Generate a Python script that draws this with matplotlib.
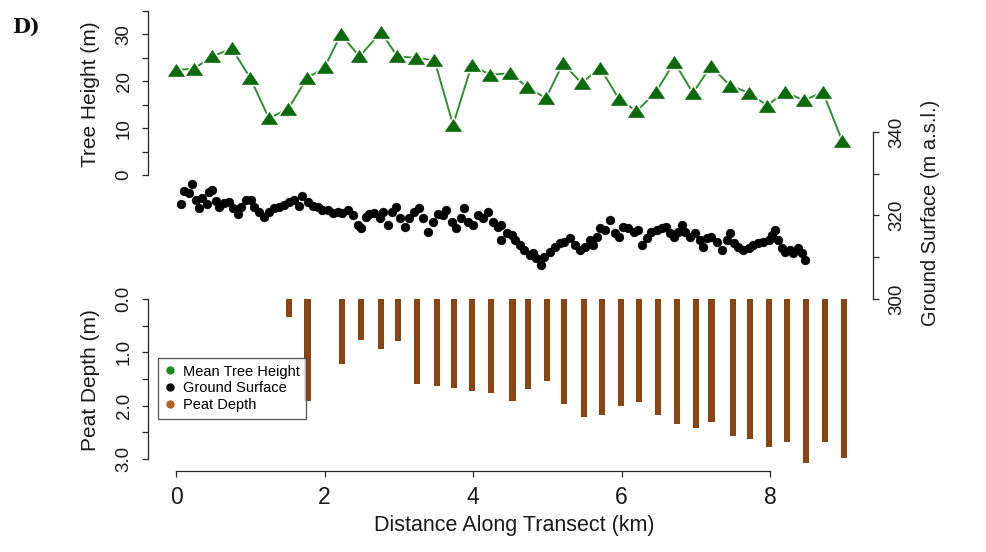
import numpy as np
import matplotlib
matplotlib.use("Agg")
import matplotlib.pyplot as plt
from matplotlib import font_manager
from matplotlib.lines import Line2D
from matplotlib.path import Path

# ---- data -------------------------------------------------------------
tree_km = [0.00, 0.24, 0.49, 0.75, 1.00, 1.25, 1.51, 1.76, 2.00, 2.22, 2.47, 2.76,
           2.98, 3.23, 3.48, 3.73, 3.98, 4.23, 4.50, 4.73, 4.98, 5.21, 5.46, 5.71,
           5.96, 6.20, 6.46, 6.71, 6.96, 7.20, 7.46, 7.72, 7.96, 8.20, 8.45, 8.71, 8.97]
tree_height = [22.4, 22.7, 25.3, 27.0, 20.7, 12.1, 14.1, 20.6, 23.0, 30.0, 25.3, 30.5,
               25.3, 25.0, 24.5, 10.7, 23.4, 21.4, 21.7, 18.7, 16.4, 23.8, 19.6, 22.9,
               16.3, 13.6, 17.7, 24.1, 17.5, 23.2, 19.1, 17.5, 14.8, 17.8, 15.9, 17.7, 7.3]

ground_km = [0.06, 0.11, 0.18, 0.22, 0.27, 0.31, 0.35, 0.41, 0.45, 0.49, 0.54, 0.58,
             0.65, 0.71, 0.76, 0.83, 0.87, 0.94, 1.01, 1.05, 1.12, 1.19, 1.25, 1.32,
             1.39, 1.46, 1.52, 1.59, 1.66, 1.70, 1.77, 1.84, 1.91, 1.97, 2.04, 2.11,
             2.18, 2.24, 2.31, 2.38, 2.45, 2.49, 2.56, 2.60, 2.67, 2.74, 2.78, 2.85,
             2.91, 2.96, 3.01, 3.08, 3.14, 3.21, 3.27, 3.32, 3.39, 3.46, 3.53, 3.59,
             3.64, 3.71, 3.77, 3.84, 3.88, 3.93, 4.00, 4.06, 4.13, 4.20, 4.27, 4.33,
             4.38, 4.37, 4.45, 4.52, 4.56, 4.63, 4.69, 4.76, 4.81, 4.85, 4.92, 4.96,
             5.03, 5.10, 5.17, 5.23, 5.30, 5.37, 5.44, 5.50, 5.57, 5.62, 5.67, 5.71,
             5.77, 5.84, 5.91, 5.97, 6.02, 6.09, 6.16, 6.22, 6.28, 6.34, 6.40, 6.47,
             6.54, 6.60, 6.65, 6.70, 6.76, 6.81, 6.85, 6.92, 6.99, 7.06, 7.10, 7.15,
             7.21, 7.28, 7.35, 7.42, 7.46, 7.51, 7.57, 7.64, 7.71, 7.77, 7.84, 7.91,
             7.98, 8.02, 8.07, 8.11, 8.16, 8.20, 8.27, 8.31, 8.38, 8.43, 8.47]
ground_elev = [322.7, 325.9, 325.3, 327.5, 323.7, 321.7, 324.3, 322.7, 325.7, 326.1, 323.5, 322.1,
               322.9, 323.3, 321.7, 320.3, 322.1, 323.7, 323.7, 322.1, 320.9, 319.7, 320.9, 321.7,
               322.1, 322.5, 323.3, 323.7, 322.3, 324.7, 323.3, 322.3, 322.1, 321.3, 321.3, 320.5,
               320.9, 320.5, 321.3, 320.1, 317.7, 316.9, 319.7, 320.3, 320.5, 319.3, 320.9, 317.7,
               320.9, 322.1, 319.3, 317.3, 319.3, 320.9, 321.9, 319.3, 316.1, 318.5, 320.3, 320.1,
               321.3, 318.5, 316.9, 319.3, 321.7, 318.5, 317.7, 320.1, 319.3, 320.9, 318.5, 317.3,
               314.1, 317.7, 315.7, 315.3, 314.1, 312.9, 311.7, 310.5, 311.0, 309.8, 308.1, 310.1,
               311.3, 312.5, 313.3, 313.7, 314.5, 312.9, 311.7, 312.5, 314.1, 312.9, 314.9, 316.9,
               316.5, 318.9, 315.7, 314.9, 317.3, 316.9, 316.1, 316.5, 312.9, 314.5, 316.1, 316.5,
               316.9, 317.3, 315.7, 314.9, 316.1, 317.7, 316.1, 314.9, 315.7, 314.1, 312.5, 314.5,
               314.9, 313.7, 311.7, 314.1, 315.7, 313.3, 312.5, 311.7, 312.1, 312.9, 313.3, 313.7,
               314.1, 315.3, 316.5, 314.1, 312.1, 311.3, 311.7, 311.0, 312.1, 311.0, 309.3]

peat_km = [1.52, 1.77, 2.23, 2.49, 2.76, 2.99, 3.24, 3.51, 3.74, 3.98, 4.24, 4.53,
           4.74, 4.99, 5.22, 5.49, 5.74, 5.99, 6.24, 6.49, 6.74, 7.00, 7.21, 7.50,
           7.73, 7.98, 8.23, 8.48, 8.74, 9.00]
peat_depth = [0.34, 1.91, 1.22, 0.76, 0.94, 0.79, 1.59, 1.63, 1.66, 1.73, 1.76, 1.91,
              1.69, 1.53, 1.96, 2.21, 2.18, 2.00, 1.93, 2.18, 2.34, 2.41, 2.30, 2.57,
              2.63, 2.77, 2.69, 3.07, 2.69, 2.99]

x_ticks = [0, 2, 4, 6, 8]
tree_ticks = [0, 5, 10, 15, 20, 25, 30, 35]
tree_labels = ["0", "", "10", "", "20", "", "30", ""]
ground_ticks = [300, 310, 320, 330, 340]
ground_labels = ["300", "", "320", "", "340"]
peat_ticks = [0.0, 0.5, 1.0, 1.5, 2.0, 2.5, 3.0]
peat_labels = ["0.0", "", "1.0", "", "2.0", "", "3.0"]

# ---- styling ----------------------------------------------------------
names = {f.name for f in font_manager.fontManager.ttflist}
SANS = "Liberation Sans" if "Liberation Sans" in names else "DejaVu Sans"
NARROW = "Liberation Sans Narrow" if "Liberation Sans Narrow" in names else SANS
LABEL_SIZE = 18 if NARROW != SANS else 15.5
TICK_SIZE = 18 if NARROW != SANS else 16.5

GREEN = "#0b6a0b"
GREEN_LINE = "#2f8f2f"
BROWN = "#8b4513"
AX = "#262626"

W, H = 986, 552
fig = plt.figure(figsize=(W / 100, H / 100), dpi=100)


def fx(px):
    return px / W


def fy(py):
    return 1 - py / H


left, right = 148, 873
xlim = (-0.378, 9.385)


def make_axes(top_px, bottom_px):
    ax = fig.add_axes([fx(left), fy(bottom_px), fx(right - left), (bottom_px - top_px) / H])
    ax.set_facecolor("none")
    for s in ax.spines.values():
        s.set_visible(False)
        s.set_color(AX)
        s.set_linewidth(0.9)
    ax.set_xlim(*xlim)
    ax.set_xticks([])
    return ax


def style_y(ax, side, ticks, labels):
    ax.yaxis.set_ticks_position(side)
    ax.spines[side].set_visible(True)
    ax.spines[side].set_bounds(ticks[0], ticks[-1])
    ax.set_yticks(ticks)
    ax.set_yticklabels(labels)
    ax.tick_params(axis="y", direction="out", length=4.5, width=0.9, color=AX,
                   pad=6.5, labelsize=13.5, labelcolor="#1a1a1a")
    for t in ax.get_yticklabels():
        t.set_rotation(90)
        t.set_va("center")
        t.set_ha("right" if side == "left" else "left")
        t.set_family(SANS)


# Tree height panel
ax_t = make_axes(11, 175)
ax_t.set_ylim(0, 35)
style_y(ax_t, "left", tree_ticks, tree_labels)
tri = Path([(0, 0.75), (-1, -0.75), (1, -0.75), (0, 0.75)],
           [Path.MOVETO, Path.LINETO, Path.LINETO, Path.CLOSEPOLY])
ax_t.plot(tree_km, tree_height, color=GREEN_LINE, lw=1.4, zorder=2, clip_on=False)
ax_t.plot(tree_km, tree_height, linestyle="none", marker=tri, markersize=12,
          markerfacecolor=GREEN, markeredgecolor="white", markeredgewidth=2.4,
          zorder=3, clip_on=False)
ax_t.plot(tree_km, tree_height, linestyle="none", marker=tri, markersize=11.5,
          markerfacecolor=GREEN, markeredgecolor=GREEN, markeredgewidth=0.5,
          zorder=4, clip_on=False)

# Ground surface panel
ax_g = make_axes(132, 299)
ax_g.set_ylim(300, 340)
style_y(ax_g, "right", ground_ticks, ground_labels)
ax_g.plot(ground_km, ground_elev, linestyle="none", marker="o", markersize=6.4,
          markerfacecolor="black", markeredgecolor="black", markeredgewidth=0.3,
          clip_on=False, zorder=3)

# Peat depth panel
ax_p = make_axes(299, 459)
ax_p.set_ylim(3, 0)
style_y(ax_p, "left", peat_ticks, peat_labels)
ax_p.bar(peat_km, peat_depth, width=0.082, bottom=0, color=BROWN, linewidth=0,
         clip_on=False, zorder=2)

# Shared distance axis
ax_p.spines["bottom"].set_visible(True)
ax_p.spines["bottom"].set_position(("outward", 8.6))
ax_p.spines["bottom"].set_bounds(x_ticks[0], x_ticks[-1])
ax_p.set_xticks(x_ticks)
ax_p.set_xticklabels([str(v) for v in x_ticks])
ax_p.tick_params(axis="x", direction="out", length=4.5, width=0.9, color=AX,
                 pad=6.0, labelsize=TICK_SIZE, labelcolor="#1a1a1a")
for t in ax_p.get_xticklabels():
    t.set_family(NARROW)

# Axis titles
fig.text(fx(91), fy(94), "Tree Height (m)", rotation=90, ha="center", va="center",
         fontsize=15, family=SANS, color="#1a1a1a")
fig.text(fx(91), fy(380), "Peat Depth (m)", rotation=90, ha="center", va="center",
         fontsize=15, family=SANS, color="#1a1a1a")
fig.text(fx(930), fy(213), "Ground Surface (m a.s.l.)", rotation=90, ha="center",
         va="center", fontsize=14.5, family=SANS, color="#1a1a1a")
fig.text(fx(514), fy(525), "Distance Along Transect (km)", ha="center", va="center",
         fontsize=LABEL_SIZE, family=NARROW, color="#1a1a1a")
fig.text(fx(12), fy(27), "D)", ha="left", va="center", fontsize=15,
         family="DejaVu Serif", weight="bold", color="#111111")

# Legend
handles = [
    Line2D([], [], linestyle="none", marker="o", markersize=5, color="#1f8a1f"),
    Line2D([], [], linestyle="none", marker="o", markersize=5, color="black"),
    Line2D([], [], linestyle="none", marker="o", markersize=5, color="#b4622a"),
]
leg = fig.legend(handles, ["Mean Tree Height", "Ground Surface", "Peat Depth"],
                 loc="upper left", bbox_to_anchor=(fx(158), fy(358)),
                 frameon=True, fancybox=False, shadow=False, borderaxespad=0,
                 prop={"family": SANS, "size": 10.5}, handlelength=0.7,
                 handletextpad=0.55, borderpad=0.45, labelspacing=0.2)
leg.get_frame().set_edgecolor("#333333")
leg.get_frame().set_linewidth(1.0)

fig.savefig("out.png", dpi=100)
